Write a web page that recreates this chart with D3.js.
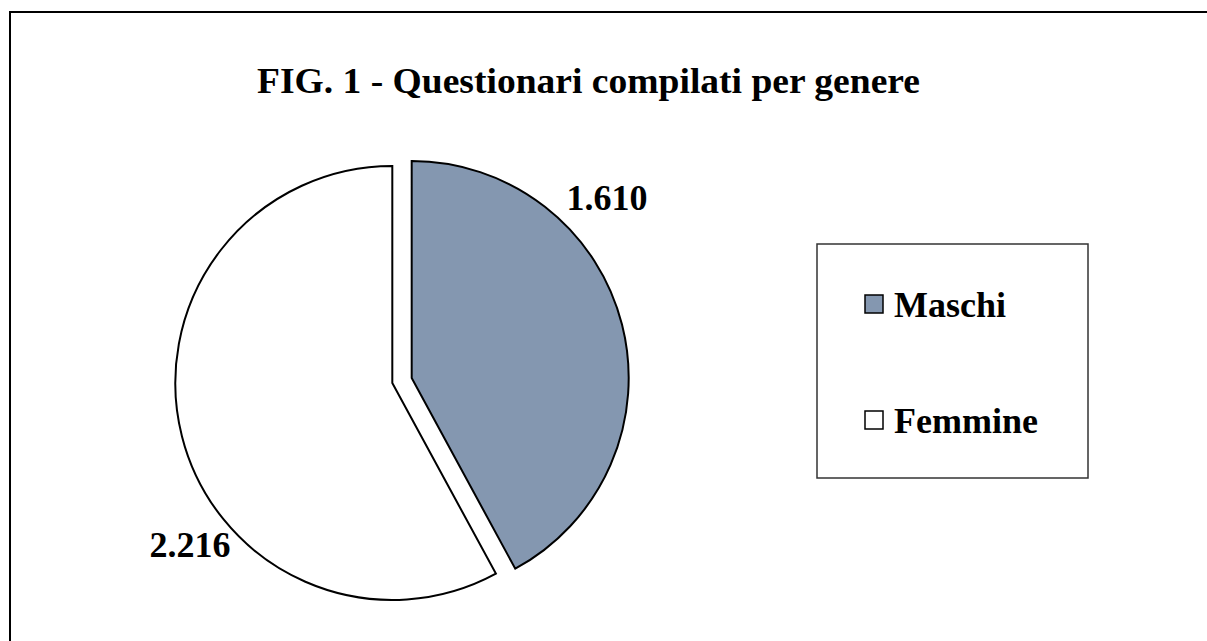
<!DOCTYPE html>
<html>
<head>
<meta charset="utf-8">
<script src="https://cdn.jsdelivr.net/npm/d3@7"></script>
<style>
  body { margin: 0; background: #fff; }
  svg { display: block; }
  text { font-family: "Liberation Serif", "Times New Roman", serif; font-weight: bold; }
</style>
</head>
<body>
<script>
"use strict";

// data
const categories = ["Maschi", "Femmine"];
const values = [1610, 2216];
const valueLabels = ["1.610", "2.216"];
const colors = ["#8497b0", "#ffffff"];
const title = "FIG. 1 - Questionari compilati per genere";

var width = 1207,
    height = 641,
    radius = 217,
    explode = 10;

var svg = d3.select("body").append("svg")
    .attr("width", width)
    .attr("height", height);

// outer frame (runs off the right and bottom)
svg.append("rect")
    .attr("x", 10).attr("y", 12)
    .attr("width", width + 20).attr("height", height + 20)
    .attr("fill", "#fff")
    .attr("stroke", "#000")
    .attr("stroke-width", 2);

svg.append("text")
    .attr("x", 257).attr("y", 93)
    .attr("textLength", 663)
    .attr("lengthAdjust", "spacingAndGlyphs")
    .style("font-size", "36px")
    .text(title);

var pie = d3.pie().sort(null).value(function(d) { return d; });
var arcs = pie(values);

var arc = d3.arc().innerRadius(0).outerRadius(radius);

var g = svg.append("g")
    .attr("transform", "translate(402,380.5)");

g.selectAll("path")
    .data(arcs)
  .enter().append("path")
    .attr("d", arc)
    .attr("transform", function(d) {
      var a = (d.startAngle + d.endAngle) / 2;
      return "translate(" + (Math.sin(a) * explode) + "," + (-Math.cos(a) * explode) + ")";
    })
    .attr("fill", function(d, i) { return colors[i]; })
    .attr("stroke", "#000")
    .attr("stroke-width", 2)
    .attr("stroke-linejoin", "miter");

// value labels outside the slices
var labelPos = [[205, -171], [-212, 176]];
g.selectAll("text.val")
    .data(arcs)
  .enter().append("text")
    .attr("class", "val")
    .attr("x", function(d, i) { return labelPos[i][0]; })
    .attr("y", function(d, i) { return labelPos[i][1]; })
    .attr("text-anchor", "middle")
    .style("font-size", "36px")
    .text(function(d, i) { return valueLabels[i]; });

// legend
var legend = svg.append("g").attr("transform", "translate(817,244)");
legend.append("rect")
    .attr("width", 271).attr("height", 234)
    .attr("fill", "#fff")
    .attr("stroke", "#333")
    .attr("stroke-width", 1.5);

var item = legend.selectAll("g.item")
    .data(categories)
  .enter().append("g")
    .attr("class", "item")
    .attr("transform", function(d, i) { return "translate(48," + (51 + i * 116) + ")"; });

item.append("rect")
    .attr("width", 18).attr("height", 18)
    .attr("fill", function(d, i) { return colors[i]; })
    .attr("stroke", "#000")
    .attr("stroke-width", 1.5);

item.append("text")
    .attr("x", 29).attr("y", 22)
    .style("font-size", "36px")
    .text(function(d) { return d; });
</script>
</body>
</html>
